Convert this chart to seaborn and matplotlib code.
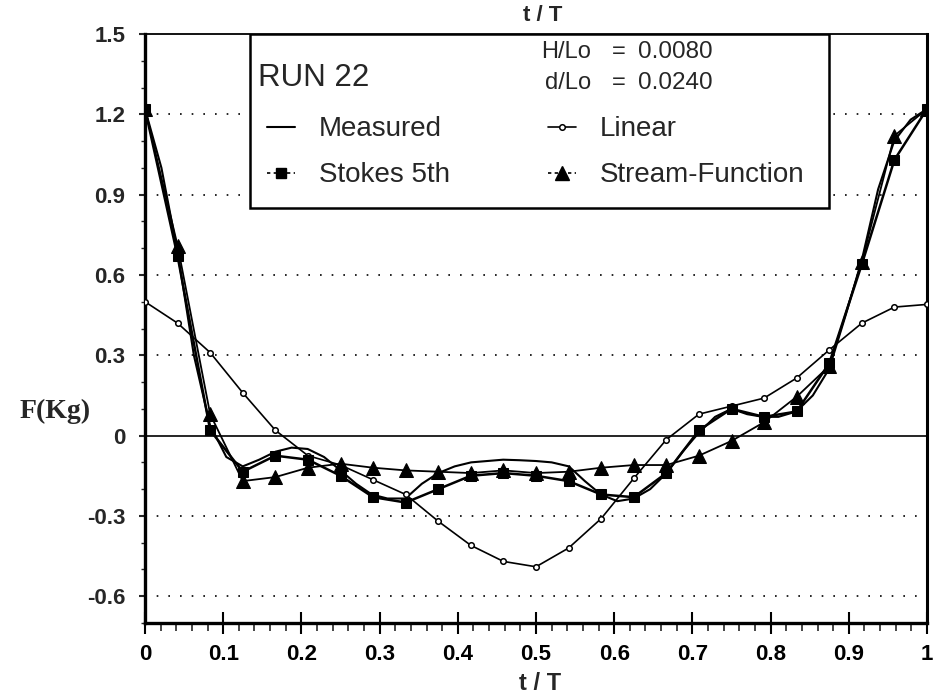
import matplotlib
matplotlib.use("Agg")
import matplotlib.pyplot as plt
from matplotlib.lines import Line2D
from matplotlib.patches import Rectangle
import seaborn as sns
import pandas as pd

# ---------------- data ----------------
t_model = [i / 24 for i in range(25)]
linear = [0.50, 0.42, 0.31, 0.16, 0.02, -0.075, -0.11, -0.165, -0.22, -0.32, -0.41, -0.47,
          -0.49, -0.42, -0.31, -0.16, -0.015, 0.08, 0.11, 0.14, 0.215, 0.32, 0.42, 0.48, 0.49]
stokes = [1.22, 0.67, 0.02, -0.135, -0.075, -0.09, -0.15, -0.23, -0.25, -0.20, -0.15, -0.14,
          -0.15, -0.17, -0.22, -0.23, -0.14, 0.02, 0.10, 0.07, 0.09, 0.27, 0.64, 1.03, 1.22]
stream = [1.22, 0.71, 0.08, -0.17, -0.155, -0.12, -0.105, -0.12, -0.13, -0.135, -0.14, -0.13,
          -0.14, -0.135, -0.12, -0.11, -0.11, -0.075, -0.02, 0.05, 0.145, 0.26, 0.65, 1.12, 1.22]

t_meas = [0.0, 0.021, 0.042, 0.0625, 0.083, 0.104, 0.125, 0.146, 0.167, 0.1875, 0.208, 0.229,
          0.25, 0.27, 0.29, 0.31, 0.333, 0.354, 0.375, 0.396, 0.417, 0.4375, 0.458, 0.479,
          0.5, 0.52, 0.542, 0.5625, 0.583, 0.604, 0.625, 0.646, 0.667, 0.6875, 0.708, 0.729,
          0.75, 0.77, 0.79, 0.81, 0.833, 0.854, 0.875, 0.896, 0.917, 0.9375, 0.958, 0.979, 1.0]
f_meas = [1.22, 1.00, 0.68, 0.30, 0.04, -0.08, -0.115, -0.09, -0.06, -0.045, -0.05, -0.08,
          -0.13, -0.18, -0.22, -0.235, -0.235, -0.18, -0.14, -0.115, -0.10, -0.095, -0.09, -0.092,
          -0.095, -0.10, -0.115, -0.17, -0.22, -0.245, -0.235, -0.20, -0.14, -0.06, 0.01, 0.07,
          0.10, 0.08, 0.07, 0.07, 0.09, 0.15, 0.25, 0.45, 0.66, 0.92, 1.10, 1.18, 1.22]

series_names = ["Measured", "Stokes 5th", "Linear", "Stream-Function"]
x_ticks = [0.0, 0.1, 0.2, 0.3, 0.4, 0.5, 0.6, 0.7, 0.8, 0.9, 1.0]
x_ticklabels = ["0", "0.1", "0.2", "0.3", "0.4", "0.5", "0.6", "0.7", "0.8", "0.9", "1"]
y_ticks = [-0.6, -0.3, 0.0, 0.3, 0.6, 0.9, 1.2, 1.5]
y_ticklabels = ["-0.6", "-0.3", "0", "0.3", "0.6", "0.9", "1.2", "1.5"]
grid_levels = [-0.6, -0.3, 0.3, 0.6, 0.9, 1.2]
run_title = "RUN 22"
param_names = ["H/Lo", "d/Lo"]
param_values = ["0.0080", "0.0240"]

# ---------------- style ----------------
sns.set_theme(style="white")
plt.rcParams["font.family"] = ["Liberation Sans", "DejaVu Sans"]

fig = plt.figure(figsize=(9.34, 7.0), dpi=100)
ax = fig.add_axes([145 / 934, 77 / 700, 782 / 934, 589 / 700])

# reference lines
for g in grid_levels:
    ax.axhline(g, color="black", lw=1.2, linestyle=(0, (1, 6)), zorder=1)
ax.axhline(0, color="black", lw=1.2, zorder=1)

df_model = pd.DataFrame({"t": t_model, "linear": linear, "stokes": stokes, "stream": stream})
df_meas = pd.DataFrame({"t": t_meas, "f": f_meas})

sns.lineplot(data=df_meas, x="t", y="f", ax=ax, color="black", lw=1.5, zorder=4)
sns.lineplot(data=df_model, x="t", y="linear", ax=ax, color="black", lw=1.2, marker="o",
             markersize=4, markerfacecolor="white", markeredgecolor="black",
             markeredgewidth=1.1, zorder=4)
sns.lineplot(data=df_model, x="t", y="stokes", ax=ax, color="black", lw=1.8, marker="s",
             markersize=7, markerfacecolor="black", markeredgecolor="black", zorder=5)
sns.lineplot(data=df_model, x="t", y="stream", ax=ax, color="black", lw=1.3, marker="^",
             markersize=10.5, markerfacecolor="black", markeredgecolor="black", zorder=5)

ax.set_xlim(0, 1)
ax.set_ylim(-0.7, 1.5)
ax.set_xlabel("")
ax.set_ylabel("")

ax.set_xticks(x_ticks)
ax.set_xticklabels(x_ticklabels, fontsize=16, fontweight="bold")
ax.set_xticks([i * 0.02 for i in range(51)], minor=True)
ax.set_yticks(y_ticks)
ax.set_yticklabels(y_ticklabels, fontsize=16, fontweight="bold")
ax.set_yticks([-0.7 + i * 0.1 for i in range(23)], minor=True)

ax.tick_params(axis="x", which="major", direction="inout", length=16, width=1.5, pad=7,
               bottom=True, colors="black")
ax.tick_params(axis="x", which="minor", direction="out", length=6, width=1.2, bottom=True)
ax.tick_params(axis="y", which="major", direction="out", length=4, width=1.5, pad=10, left=True)
ax.tick_params(axis="y", which="minor", direction="out", length=3, width=1.0, left=True)

for side, lw in (("left", 2.4), ("bottom", 2.4), ("right", 2.2), ("top", 1.3)):
    ax.spines[side].set_visible(True)
    ax.spines[side].set_color("black")
    ax.spines[side].set_linewidth(lw)

# axis labels
ax.text(0.505, -0.102, "t / T", transform=ax.transAxes, ha="center", va="center",
        fontsize=17, fontweight="bold")
ax.text(0.509, 1.032, "t / T", transform=ax.transAxes, ha="center", va="center",
        fontsize=16, fontweight="bold")
fig.text(55 / 934, 1 - 411 / 700, "F(Kg)", ha="center", va="center", fontsize=20,
         family=["Liberation Serif", "DejaVu Serif"], fontweight="bold")

# legend box
box = Rectangle((0.134, 0.705), 0.741, 0.295, transform=ax.transAxes, facecolor="white",
                edgecolor="black", lw=1.8, zorder=6)
ax.add_patch(box)
ax.text(0.1445, 0.925, run_title, transform=ax.transAxes, ha="left", va="center",
        fontsize=22.5, zorder=8)
for i, (nm, val) in enumerate(zip(param_names, param_values)):
    yv = 0.969 - i * 0.052
    ax.text(0.506 + i * 0.005, yv, nm, transform=ax.transAxes, ha="left", va="center",
            fontsize=17, zorder=8)
    ax.text(0.606, yv, "=", transform=ax.transAxes, ha="center", va="center",
            fontsize=17, zorder=8)
    ax.text(0.630, yv, val, transform=ax.transAxes, ha="left", va="center",
            fontsize=17.5, zorder=8)

handles = [
    Line2D([], [], color="black", lw=1.5),
    Line2D([], [], color="black", lw=1.2, linestyle=(0, (2, 2)), marker="s", markersize=7),
    Line2D([], [], color="black", lw=1.2, marker="o", markersize=4, markerfacecolor="white",
           markeredgewidth=1.1),
    Line2D([], [], color="black", lw=1.2, linestyle=(0, (2, 2)), marker="^", markersize=10),
]
leg = ax.legend(handles, series_names, ncol=2, loc="upper left",
                bbox_to_anchor=(0.142, 0.879), borderaxespad=0, frameon=False,
                fontsize=20, handlelength=1.0, handletextpad=0.85, columnspacing=3.55,
                labelspacing=0.72)
leg.set_zorder(9)

fig.savefig("out.png", dpi=100, facecolor="white")
